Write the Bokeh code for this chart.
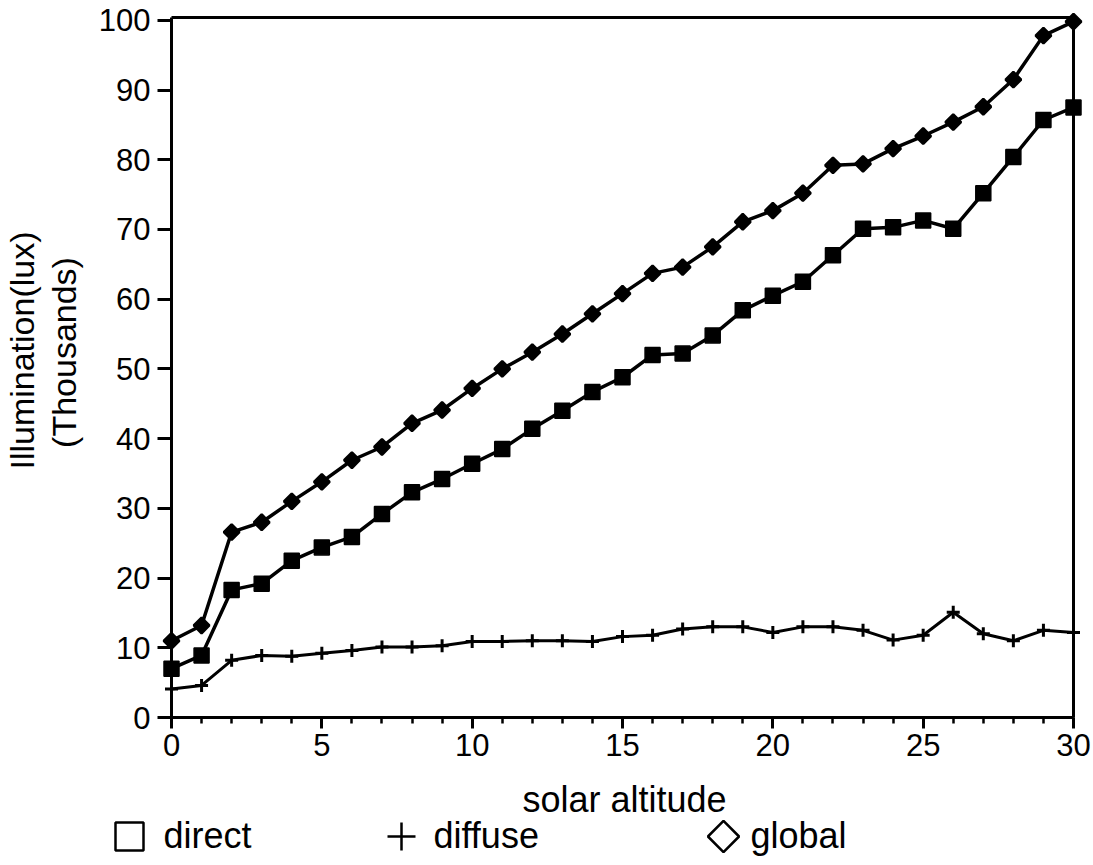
import math

from bokeh.plotting import figure
from bokeh.models import FixedTicker, Range1d, LinearAxis, Label
from bokeh.embed import file_html
from bokeh.resources import INLINE

# Solar altitude (degrees) and illumination in thousands of lux
altitude = list(range(31))
direct = [7.0, 8.9, 18.3, 19.2, 22.5, 24.4, 25.9, 29.2, 32.3, 34.2, 36.4,
          38.5, 41.4, 44.0, 46.7, 48.8, 52.0, 52.2, 54.8, 58.4, 60.5,
          62.5, 66.3, 70.1, 70.3, 71.3, 70.1, 75.2, 80.4, 85.7, 87.5]
diffuse = [4.1, 4.6, 8.2, 8.9, 8.8, 9.2, 9.6, 10.1, 10.1, 10.3, 10.9,
           10.9, 11.0, 11.0, 10.9, 11.6, 11.8, 12.7, 13.0, 13.0, 12.2,
           13.0, 13.0, 12.5, 11.1, 11.8, 15.1, 12.0, 11.0, 12.5, 12.2]
global_ill = [11.0, 13.2, 26.6, 28.0, 31.0, 33.8, 36.9, 38.8, 42.2, 44.1, 47.2,
              50.0, 52.4, 55.0, 57.9, 60.8, 63.7, 64.6, 67.5, 71.1, 72.7,
              75.2, 79.2, 79.4, 81.6, 83.4, 85.4, 87.6, 91.5, 97.8, 99.8]

x_ticks = [0, 5, 10, 15, 20, 25, 30]
y_ticks = [0, 10, 20, 30, 40, 50, 60, 70, 80, 90, 100]

x_title = "solar altitude"
y_title_lines = ["Illumination(lux)", "(Thousands)"]
legend_names = ["direct", "diffuse", "global"]

FONT = "Liberation Sans"
W, H = 1093, 865

# Plot box in page pixels; the data area spans 0..30 by 0..Y_TOP
BOX_L, BOX_R, BOX_T, BOX_B = 171, 1073, 17, 717
X_MAX, Y_TOP = 30, 100.4
SX = (BOX_R - BOX_L) / X_MAX
SY = (BOX_B - BOX_T) / Y_TOP
BASELINE_FIX = 13  # alphabetic anchor sits this many px above the drawn baseline


def dx(px):
    """Page x pixel -> data x."""
    return (px - BOX_L) / SX


def dy(py):
    """Page y pixel (from top) -> data y."""
    return (BOX_B - py) / SY


# The frame covers the whole page so titles and key can sit around the box;
# the axes are pinned to the data origin.
p = figure(width=W, height=H, output_backend="svg", toolbar_location=None,
           x_range=Range1d(dx(0), dx(W)), y_range=Range1d(dy(H), dy(0)),
           min_border=0)
p.background_fill_color = "white"
p.border_fill_color = "white"
p.outline_line_color = None
p.grid.visible = False

# x axis: labelled every 5 degrees, small ticks every degree
xa = p.xaxis[0]
xa.fixed_location = 0
xa.bounds = (0, X_MAX)
xa.ticker = FixedTicker(ticks=x_ticks, minor_ticks=altitude)
xa.axis_line_width = 3
xa.major_tick_in = 0
xa.major_tick_out = 11
xa.major_tick_line_width = 3
xa.minor_tick_in = 0
xa.minor_tick_out = 6
xa.minor_tick_line_width = 2.5
xa.minor_tick_line_color = "black"
xa.major_label_standoff = 5

# y axis: ticks every 10 thousand lux
ya = p.yaxis[0]
ya.fixed_location = 0
ya.bounds = (0, Y_TOP)
ya.ticker = FixedTicker(ticks=y_ticks, minor_ticks=[])
ya.axis_line_width = 3
ya.major_tick_in = 0
ya.major_tick_out = 14
ya.major_tick_line_width = 3
ya.minor_tick_line_color = None
ya.major_label_standoff = 7

for ax in (xa, ya):
    ax.axis_line_color = "black"
    ax.major_tick_line_color = "black"
    ax.major_label_text_font = FONT
    ax.major_label_text_font_size = "31px"
    ax.major_label_text_color = "black"

# Top and right edges of the box
top = LinearAxis(fixed_location=Y_TOP, bounds=(0, X_MAX),
                 ticker=FixedTicker(ticks=[], minor_ticks=[]),
                 axis_line_width=3, axis_line_color="black",
                 major_label_text_color=None)
right = LinearAxis(fixed_location=X_MAX, bounds=(0, Y_TOP),
                   ticker=FixedTicker(ticks=[], minor_ticks=[]),
                   axis_line_width=3, axis_line_color="black",
                   major_label_text_color=None)
p.add_layout(top, "above")
p.add_layout(right, "right")

# Series
p.line(altitude, global_ill, line_color="black", line_width=3.5)
p.scatter(altitude, global_ill, marker="square", angle=math.pi / 4, size=11,
          fill_color="black", line_color="black", line_width=2.5)

p.line(altitude, direct, line_color="black", line_width=3.5)
p.scatter(altitude, direct, marker="square", size=15,
          fill_color="black", line_color="black", line_width=1.5)

p.line(altitude, diffuse, line_color="black", line_width=3)
p.scatter(altitude, diffuse, marker="cross", size=13,
          line_color="black", line_width=3)

# Axis titles
for cx, cy, txt in zip([21, 63], [350, 352], y_title_lines):
    p.add_layout(Label(x=dx(cx), y=dy(cy), text=txt, angle=math.pi / 2,
                       text_align="center", text_baseline="middle",
                       text_font=FONT, text_font_size="34px",
                       text_color="black"))

p.add_layout(Label(x=dx(624), y=dy(812 - BASELINE_FIX), text=x_title,
                   text_align="center", text_baseline="alphabetic",
                   text_font=FONT, text_font_size="36px", text_color="black"))

# Key row under the axis title
sym_y = dy(836)
p.scatter([dx(129)], [sym_y], marker="square", size=28, fill_color=None,
          line_color="black", line_width=2.5)
p.scatter([dx(401)], [sym_y], marker="cross", size=28,
          line_color="black", line_width=2.5)
p.scatter([dx(723)], [sym_y], marker="square", angle=math.pi / 4, size=22,
          fill_color=None, line_color="black", line_width=2.5)
name_px = [163, 433, 750]
for nx, nm in zip(name_px, legend_names):
    p.add_layout(Label(x=dx(nx), y=dy(848 - BASELINE_FIX), text=nm,
                       text_align="left", text_baseline="alphabetic",
                       text_font=FONT, text_font_size="36px",
                       text_color="black"))

open("out.html", "w").write(file_html(p, INLINE))
